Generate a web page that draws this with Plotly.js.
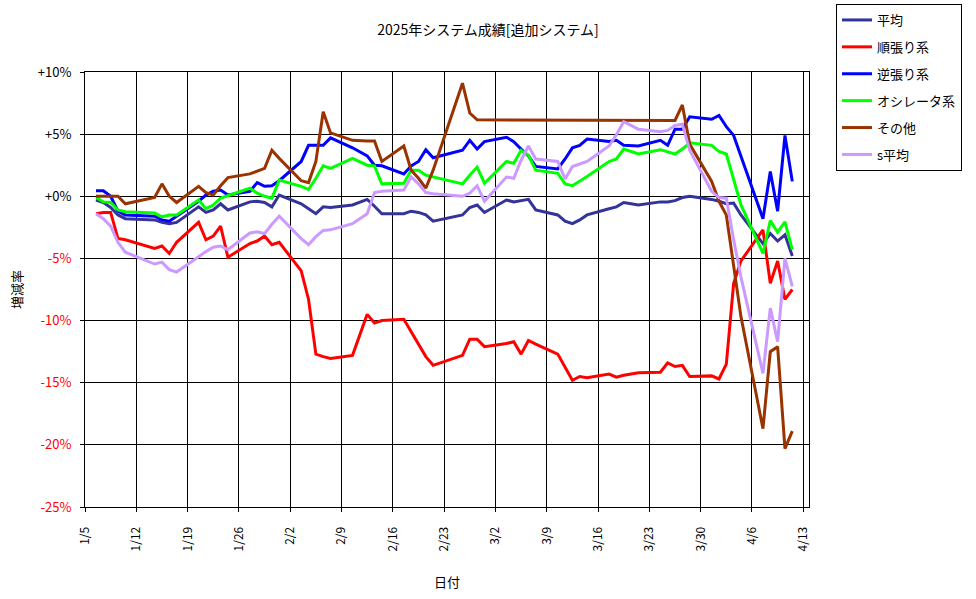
<!DOCTYPE html>
<html><head><meta charset="utf-8">
<script src="https://cdn.plot.ly/plotly-3.0.1.min.js"></script>
<style>body{margin:0;background:#fff}#chart{width:976px;height:599px}</style>
</head><body><div id="chart"></div>
<script>
const dates = [
 '2025-01-06','2025-01-07','2025-01-08','2025-01-09','2025-01-10','2025-01-14','2025-01-15','2025-01-16','2025-01-17',
 '2025-01-20','2025-01-21','2025-01-22','2025-01-23','2025-01-24','2025-01-27','2025-01-28','2025-01-29','2025-01-30','2025-01-31',
 '2025-02-03','2025-02-04','2025-02-05','2025-02-06','2025-02-07','2025-02-10','2025-02-12','2025-02-13','2025-02-14',
 '2025-02-17','2025-02-18','2025-02-19','2025-02-20','2025-02-21','2025-02-25','2025-02-26','2025-02-27','2025-02-28',
 '2025-03-03','2025-03-04','2025-03-05','2025-03-06','2025-03-07','2025-03-10','2025-03-11','2025-03-12','2025-03-13','2025-03-14',
 '2025-03-17','2025-03-18','2025-03-19','2025-03-21','2025-03-24','2025-03-25','2025-03-26','2025-03-27','2025-03-28','2025-03-31',
 '2025-04-01','2025-04-02','2025-04-03','2025-04-04','2025-04-07','2025-04-08','2025-04-09','2025-04-10','2025-04-11'
];
// 平均
const heikin = [
 -0.3,-0.5,-0.9,-1.5,-1.8,-1.9,-2.1,-2.2,-2.1,-0.85,-1.3,-1.1,-0.6,-1.1,-0.45,-0.4,-0.5,-0.85,0.1,
 -0.6,-1.0,-1.4,-0.85,-0.9,-0.7,-0.25,-0.8,-1.4,-1.4,-1.2,-1.3,-1.5,-2.0,-1.5,-0.9,-0.7,-1.3,
 -0.3,-0.45,-0.35,-0.25,-1.1,-1.5,-2.0,-2.2,-1.9,-1.5,-1.0,-0.85,-0.5,-0.7,-0.45,-0.45,-0.35,-0.1,0.0,-0.25,
 -0.4,-0.6,-0.55,-1.5,-3.8,-3.0,-3.6,-3.1,-4.8
];
// 順張り系
const junbari = [
 -1.4,-1.3,-1.3,-3.4,-3.5,-4.2,-4.0,-4.6,-3.7,-2.1,-3.5,-3.2,-2.4,-4.9,-3.8,-3.6,-3.2,-3.9,-3.7,
 -6.0,-8.3,-12.7,-12.9,-13.05,-12.8,-9.5,-10.2,-10.0,-9.9,-10.9,-11.8,-12.9,-13.6,-12.8,-11.5,-11.5,-12.1,
 -11.85,-11.7,-12.7,-11.6,-11.9,-12.7,-13.8,-14.8,-14.5,-14.6,-14.3,-14.55,-14.4,-14.2,-14.15,-13.4,-13.7,-13.6,-14.5,-14.45,
 -14.7,-13.5,-7.0,-5.2,-2.7,-7.0,-5.2,-8.3,-7.5
];
// 逆張り系
const gyakubari = [
 0.45,0.45,0.0,-1.2,-1.5,-1.6,-1.9,-2.0,-1.6,-0.4,0.1,0.4,0.5,0.1,0.4,1.1,0.8,0.85,1.25,
 2.8,4.1,4.1,4.1,4.7,3.9,3.25,2.5,2.45,1.8,2.45,2.8,3.75,3.1,3.7,4.5,3.8,4.4,
 4.75,4.4,3.8,3.25,2.4,2.2,3.0,3.9,4.1,4.6,4.4,4.5,4.1,4.05,4.5,4.1,5.4,5.4,6.4,6.2,
 6.5,5.6,4.9,3.2,-1.8,2.0,-1.2,4.9,1.2
];
// オシレータ系
const oscillator = [
 -0.1,-0.45,-0.5,-1.1,-1.25,-1.35,-1.65,-1.5,-1.5,-0.3,-1.0,-0.7,-0.15,0.05,0.65,0.25,0.0,-0.15,1.3,
 0.8,0.55,1.45,2.45,2.25,3.05,2.5,2.45,1.0,1.05,2.1,2.1,1.7,1.55,1.0,1.7,2.35,1.05,
 2.8,2.65,3.7,3.3,2.1,1.85,1.0,0.85,1.2,1.6,2.8,3.0,3.8,3.4,3.75,3.6,3.4,3.8,4.3,4.1,
 3.6,3.4,1.3,-0.7,-4.6,-1.95,-2.9,-2.05,-4.3
];
// その他
const sonota = [
 0.0,0.0,0.0,0.0,-0.6,-0.1,1.0,0.0,-0.5,0.8,0.3,0.1,0.85,1.5,1.8,2.0,2.25,3.7,3.05,
 1.25,1.1,2.8,6.8,5.1,4.5,4.45,4.45,2.8,4.05,2.1,1.45,0.65,2.1,9.1,6.7,6.15,6.15,
 6.1,6.1,6.1,6.1,6.1,6.1,6.1,6.1,6.1,6.1,6.1,6.1,6.1,6.1,6.1,6.1,6.1,7.35,4.2,1.2,
 -0.4,-1.5,-5.4,-9.7,-18.7,-12.5,-12.1,-20.3,-18.9
];
// s平均
const sHeikin = [
 -1.4,-1.8,-2.4,-3.7,-4.5,-5.45,-5.3,-5.9,-6.1,-4.85,-4.45,-4.1,-4.0,-4.3,-2.95,-2.85,-3.0,-2.25,-1.6,
 -3.4,-3.9,-3.25,-2.75,-2.7,-2.2,-1.4,0.3,0.4,0.5,1.55,1.0,0.3,0.2,0.0,0.25,0.85,-0.4,
 1.55,1.45,2.9,4.05,3.0,2.8,1.4,2.4,2.6,2.8,4.05,4.95,6.0,5.4,5.2,5.3,5.7,5.8,3.7,0.4,
 -0.1,-0.15,-3.5,-6.5,-14.25,-9.0,-11.7,-5.0,-7.25
];
const seriesNames = ['平均','順張り系','逆張り系','オシレータ系','その他','s平均'];
const seriesColors = ['#333399','#FF0000','#0000FF','#00FF00','#993300','#CC99FF'];
const seriesValues = [heikin, junbari, gyakubari, oscillator, sonota, sHeikin];
const tickLabels = ['1/5','1/12','1/19','1/26','2/2','2/9','2/16','2/23','3/2','3/9','3/16','3/23','3/30','4/6','4/13'];
const yTicksPos = [10,5,0];
const yTickTextPos = ['+10%','+5%','+0%'];
const yTicksNeg = [-5,-10,-15,-20,-25];
const yTickTextNeg = ['-5%','-10%','-15%','-20%','-25%'];

const DAY = 86400000;
function fmt(ms){ return new Date(ms).toISOString().replace('T',' ').slice(0,19); }
// points sit in the middle of their day slot; ticks mark the start of each week
const firstTick = Date.UTC(2025,0,5) - DAY/2;
const tickVals = tickLabels.map((_,i)=>fmt(firstTick + i*7*DAY));
const xRange = [fmt(firstTick), fmt(firstTick + 98.78*DAY)];

const FONT = '"Noto Sans CJK JP", "Noto Sans", sans-serif';
const traces = seriesNames.map((n,i)=>({
  type:'scatter', mode:'lines', name:n, x:dates, y:seriesValues[i],
  line:{color:seriesColors[i], width:3}, legendgroup:'g'+i
}));
// empty helper trace so the red negative-tick axis is drawn
traces.push({type:'scatter', mode:'lines', x:[], y:[], yaxis:'y2', showlegend:false, hoverinfo:'skip'});

const yCommon = {range:[-25,10], showgrid:true, gridcolor:'#000', gridwidth:1, showline:true, linecolor:'#000',
  linewidth:1, mirror:true, ticks:'outside', ticklen:4, tickcolor:'#000', zeroline:false, ticklabelstandoff:6};

const layout = {
  width:976, height:599,
  margin:{l:85, r:167, t:72, b:92},
  paper_bgcolor:'#fff', plot_bgcolor:'#fff',
  font:{family:FONT, size:12, color:'#000'},
  title:{text:'2025年システム成績[追加システム]', x:0.5, xref:'container', y:0.95, yanchor:'middle', font:{size:14, family:FONT, color:'#000'}},
  showlegend:true,
  legend:{xref:'container', yref:'container', x:836/976, y:1-4/599, xanchor:'left', yanchor:'top',
    bordercolor:'#000', borderwidth:1, bgcolor:'#fff',
    font:{size:13, family:FONT, color:'#000'}, tracegroupgap:7, itemwidth:30, traceorder:'grouped'},
  xaxis:{type:'date', range:xRange, tickvals:tickVals, ticktext:tickLabels, tickangle:-90,
    showgrid:true, gridcolor:'#000', gridwidth:1, showline:true, linecolor:'#000', linewidth:1, mirror:true,
    ticks:'outside', ticklen:4, tickcolor:'#000', tickfont:{size:12, color:'#000'}, zeroline:false, ticklabelstandoff:10,
    title:{text:'日付', font:{size:13, color:'#000'}, standoff:27}},
  yaxis:Object.assign({}, yCommon, {tickvals:yTicksPos, ticktext:yTickTextPos, tickfont:{size:13, color:'#000'},
    title:{text:'増減率', font:{size:13, color:'#000'}, standoff:12}}),
  yaxis2:Object.assign({}, yCommon, {overlaying:'y', anchor:'x', side:'left', tickvals:yTicksNeg, ticktext:yTickTextNeg,
    tickfont:{size:13, color:'#ff0000'}})
};
Plotly.newPlot('chart', traces, layout, {displayModeBar:false, staticPlot:true});
</script>
</body></html>
